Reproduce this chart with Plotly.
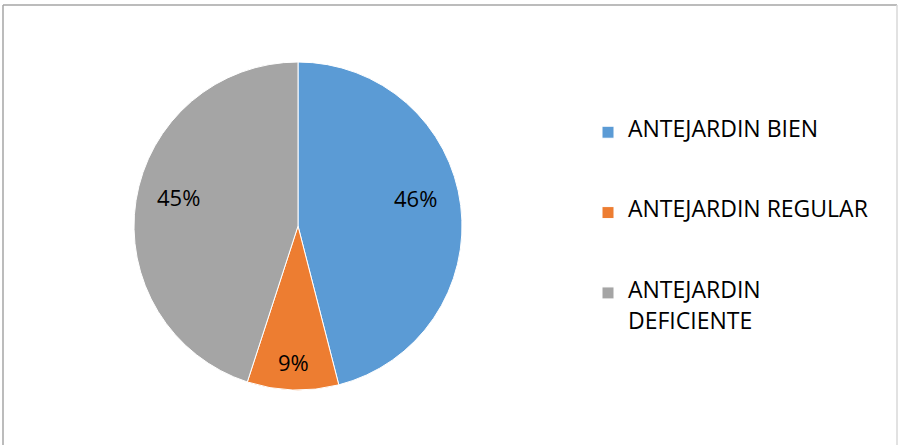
import math
import plotly.graph_objects as go

labels = ["ANTEJARDIN BIEN", "ANTEJARDIN REGULAR", "ANTEJARDIN DEFICIENTE"]
values = [46, 9, 45]
colors = ["#5B9BD5", "#ED7D31", "#A5A5A5"]

W, H = 898, 445
cx, cy, r = 298, 226, 164
label_radius = [0.72, 0.83, 0.74]
label_dy = [-13, 0, -10]
FONT = "Open Sans, Lato, sans-serif"
TXT = "<span style='font-size:23px'>{}</span>"
PAD = "<br>&nbsp;" * 4

# legend display text (line breaks / padding only affect layout)
legend_text = [
    TXT.format("ANTEJARDIN BIEN") + PAD,
    TXT.format("ANTEJARDIN REGULAR") + PAD,
    TXT.format("ANTEJARDIN") + "<br>&nbsp;<br>" + TXT.format("DEFICIENTE"),
]

fig = go.Figure(go.Pie(
    labels=legend_text,
    values=values,
    sort=False,
    direction="clockwise",
    rotation=0,
    marker=dict(colors=colors, line=dict(color="white", width=1)),
    textinfo="none",
    customdata=labels,
    hovertemplate="%{customdata}: %{percent}<extra></extra>",
    domain=dict(x=[(cx - r) / W, (cx + r) / W], y=[1 - (cy + r) / H, 1 - (cy - r) / H]),
))

# percentage labels placed along each slice's bisector
total = sum(values)
annotations = []
acc = 0
for v, f, dy in zip(values, label_radius, label_dy):
    mid = (acc + v / 2) / total * 2 * math.pi
    acc += v
    px = cx + f * r * math.sin(mid)
    py = cy - f * r * math.cos(mid) + dy
    annotations.append(dict(
        x=px / W, y=1 - py / H, xref="paper", yref="paper",
        text=f"{round(v / total * 100)}%", showarrow=False,
        font=dict(family=FONT, size=22, color="#000000"),
        xanchor="center", yanchor="middle",
    ))

fig.update_layout(
    width=W, height=H,
    margin=dict(l=0, r=0, t=0, b=0),
    paper_bgcolor="white",
    plot_bgcolor="white",
    showlegend=True,
    annotations=annotations,
    legend=dict(
        x=588 / W, y=1 - 118 / H, xanchor="left", yanchor="top",
        font=dict(family=FONT, size=11.9, color="#000000"),
        valign="top",
        itemwidth=30,
        bgcolor="rgba(0,0,0,0)",
    ),
    shapes=[
        dict(type="line", xref="paper", yref="paper",
             x0=3 / W, x1=897 / W, y0=1 - 5 / H, y1=1 - 5 / H,
             line=dict(color="#A6A6A6", width=1.5), layer="below"),
        dict(type="line", xref="paper", yref="paper",
             x0=3 / W, x1=3 / W, y0=-0.02, y1=1 - 5 / H,
             line=dict(color="#A6A6A6", width=1.5), layer="below"),
        dict(type="line", xref="paper", yref="paper",
             x0=897 / W, x1=897 / W, y0=-0.02, y1=1 - 5 / H,
             line=dict(color="#D9D9D9", width=1.5), layer="below"),
    ],
)

fig.write_html("out.html", config={"displayModeBar": False},
               post_script="document.body.style.margin='0';document.body.style.overflow='hidden';")
